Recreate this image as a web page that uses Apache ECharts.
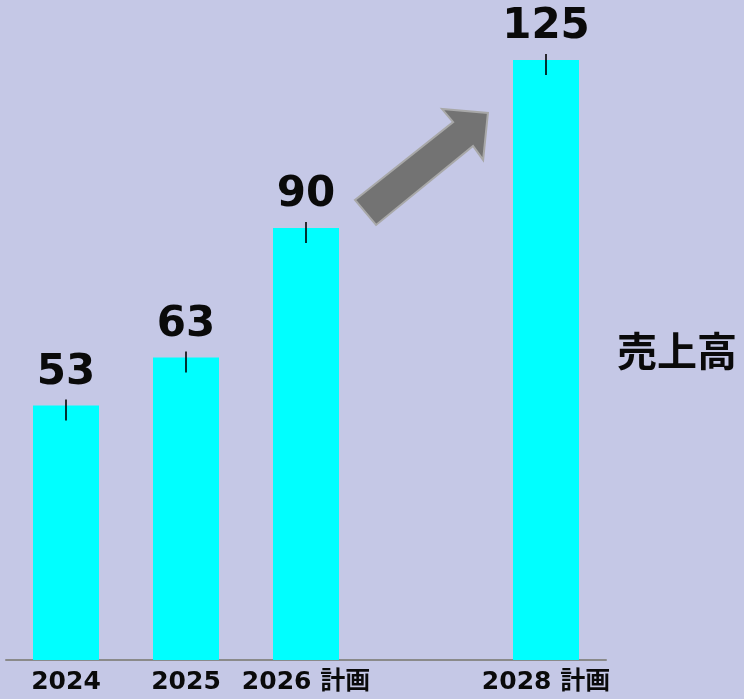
<!DOCTYPE html>
<html>
<head>
<meta charset="utf-8">
<script src="https://cdn.jsdelivr.net/npm/echarts@6/dist/echarts.min.js"></script>
<style>
html,body{margin:0;padding:0;background:#c5c8e6;}
#chart{width:744px;height:699px;}
</style>
</head>
<body>
<div id="chart"></div>
<script>
const categories = ['2024', '2025', '2026 計画', '', '2028 計画'];
const sales = [53, 63, 90, null, 125];
const seriesName = '売上高';

const chart = echarts.init(document.getElementById('chart'));
const FONT = '"DejaVu Sans", "Noto Sans CJK JP", sans-serif';

chart.setOption({
  backgroundColor: '#c5c8e6',
  animation: false,
  grid: { left: 6, right: 138, top: 60, bottom: 39, containLabel: false },
  xAxis: {
    type: 'category',
    data: categories,
    axisLine: { lineStyle: { color: '#8a8a8a', width: 2 } },
    axisTick: { show: false },
    axisLabel: {
      color: '#0a0a0a', fontWeight: 'bold', fontSize: 25, fontFamily: FONT,
      margin: 10, interval: 0
    }
  },
  yAxis: { type: 'value', min: 0, max: 125, show: false, splitLine: { show: false } },
  title: {
    text: seriesName, left: 612, top: 326,
    textStyle: { fontSize: 40, fontWeight: 'bold', color: '#0a0a0a', fontFamily: '"Noto Sans CJK JP", sans-serif' }
  },
  series: [
    {
      type: 'bar', name: seriesName, data: sales, barWidth: 66,
      itemStyle: { color: '#00ffff' },
      label: {
        show: true, position: 'top', distance: 12,
        fontSize: 42, fontWeight: 'bold', color: '#0a0a0a', fontFamily: FONT
      }
    },
    {
      type: 'scatter', data: sales, symbol: 'rect', symbolSize: [2, 21],
      symbolOffset: [0, 4.5], itemStyle: { color: '#000' }, z: 5, silent: true
    }
  ]
});

// arrow from 2026 toward 2028, placed relative to the bar tops
const p26 = chart.convertToPixel({ seriesIndex: 0 }, [2, sales[2]]);
const p28 = chart.convertToPixel({ seriesIndex: 0 }, [4, sales[4]]);
const dx = p28[0] - p26[0], dy = p28[1] - p26[1];
const rel = [[0.204, 0.167], [0.613, 0.631], [0.567, 0.708], [0.758, 0.685], [0.738, 0.405], [0.696, 0.488], [0.292, 0.018]];
const pts = rel.map(r => [p26[0] + r[0] * dx, p26[1] + r[1] * dy]);
chart.setOption({
  graphic: [{
    type: 'polygon', shape: { points: pts },
    style: { fill: '#737373', stroke: '#a8a8a8', lineWidth: 2 }, z: 10
  }]
});
</script>
</body>
</html>
